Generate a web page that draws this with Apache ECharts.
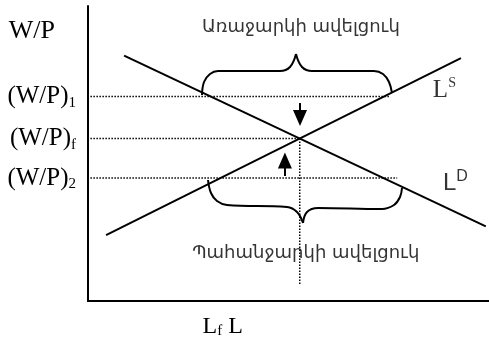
<!DOCTYPE html>
<html>
<head>
<meta charset="utf-8">
<script src="https://cdn.jsdelivr.net/npm/echarts@6/dist/echarts.min.js"></script>
<style>
html, body { margin: 0; padding: 0; background: #fff; }
#chart { width: 489px; height: 346px; }
</style>
</head>
<body>
<div id="chart"></div>
<script>
// labour market diagram, both axes in 0..100 units
var supplyLine = [[4.5, 22.3], [93, 82.3]];
var demandLine = [[9, 83.2], [99.2, 25.3]];
var eqL = 52.8;
var wLevels = [69.3, 55.1, 41.7];            // (W/P)1, (W/P)f, (W/P)2
var wLabels = ['(W/P){sub|1}', '(W/P){sub|f}', '(W/P){sub|2}'];
var wGuideEnd = [75.3, 52.8, 77.1];
var lGuideBottom = 5.4;
var lTickValues = [33.6];
var lTickLabels = ['L{sub|f} L'];

var topBraceL = [[28.43, 69.83], [28.93, 74.24], [30.42, 76.95], [32.42, 77.97], [47.88, 77.97], [50.37, 79.32], [51.87, 83.73]];
var topBraceR = [[51.87, 83.73], [53.37, 79.32], [55.86, 77.97], [71.32, 77.97], [73.57, 76.95], [75.06, 74.24], [75.81, 70.51]];
var bottomBraceL = [[29.93, 41.02], [30.67, 36.61], [32.17, 33.9], [34.66, 32.54], [49.63, 31.86], [52.12, 30.17], [53.62, 26.44]];
var bottomBraceR = [[53.62, 26.44], [54.61, 30.17], [57.36, 31.53], [73.32, 31.19], [76.31, 32.54], [77.81, 35.25], [78.3, 38.31]];

// arrows: [from, to]
var arrowDown = [[52.87, 67.1], [52.87, 62.0]];
var arrowUp = [[49.1, 42.4], [49.1, 47.6]];

var noteTexts = ['Առաջարկի ավելցուկ', 'Պահանջարկի ավելցուկ'];
var notePos = [[53.1, 92.8], [54.3, 16.2]];
var curveNames = ['L{sup|S}', 'L{sup|D}'];
var curveNamePos = [[86.0, 71.3], [88.5, 40.0]];

var serif = 'Liberation Serif';
var black = '#000';

var myChart = echarts.init(document.getElementById('chart'));

function solid(name, data, smooth) {
  return {
    name: name, type: 'line', data: data, symbol: 'none', smooth: smooth || false,
    lineStyle: { color: black, width: 2 }, silent: true, animation: false
  };
}
function dotted(name, data) {
  return {
    name: name, type: 'line', data: data, symbol: 'none',
    lineStyle: { color: black, width: 1.5, type: [1.5, 1.5] }, silent: true, animation: false
  };
}

var series = [
  solid('supply', supplyLine),
  solid('demand', demandLine),
  solid('braceTopL', topBraceL, 0.4),
  solid('braceTopR', topBraceR, 0.4),
  solid('braceBotL', bottomBraceL, 0.4),
  solid('braceBotR', bottomBraceR, 0.4)
];
wLevels.forEach(function (w, i) {
  series.push(dotted('w' + i, [[0.6, w], [wGuideEnd[i], w]]));
});
var vGuide = dotted('lf', [[eqL, wLevels[1]], [eqL, lGuideBottom]]);
vGuide.markLine = {
  silent: true, animation: false,
  symbol: ['none', 'triangle'], symbolSize: [14, 16],
  label: { show: false },
  lineStyle: { color: black, width: 2, type: 'solid' },
  itemStyle: { color: black },
  data: [
    [{ coord: arrowDown[0] }, { coord: arrowDown[1] }],
    [{ coord: arrowUp[0] }, { coord: arrowUp[1] }]
  ]
};
series.push(vGuide);

series.push({
  name: 'notes', type: 'scatter', symbolSize: 0, silent: true, animation: false,
  data: noteTexts.map(function (t, i) {
    return { value: notePos[i], name: t };
  }),
  label: {
    show: true, position: 'inside', formatter: '{b}',
    fontFamily: 'DejaVu Sans', fontSize: 18, color: black
  }
});
series.push({
  name: 'curveNames', type: 'scatter', symbolSize: 0, silent: true, animation: false,
  data: curveNames.map(function (t, i) {
    var fam = i === 0 ? serif : 'Liberation Sans';
    return {
      value: curveNamePos[i], name: t,
      label: {
        fontFamily: fam, fontSize: i === 0 ? 25 : 24, lineHeight: 28, color: black,
        rich: { sup: { fontFamily: fam, fontSize: i === 0 ? 14 : 16, verticalAlign: 'top', color: black } }
      }
    };
  }),
  label: { show: true, position: 'right', distance: 0, formatter: '{b}', color: black }
});

var option = {
  animation: false,
  grid: { left: 88, right: 0, top: 6, bottom: 45 },
  xAxis: {
    type: 'value', min: 0, max: 100,
    axisLine: { show: true, onZero: false, lineStyle: { color: black, width: 2 } },
    axisTick: { show: false },
    splitLine: { show: false },
    axisLabel: {
      customValues: lTickValues,
      margin: 14,
      fontFamily: serif, fontSize: 24, color: black,
      formatter: function (v) { return lTickLabels[lTickValues.indexOf(v)]; },
      rich: { sub: { fontFamily: serif, fontSize: 15, verticalAlign: 'bottom', color: black } }
    }
  },
  yAxis: {
    type: 'value', min: 0, max: 100,
    name: 'W/P', nameLocation: 'end', nameGap: -25,
    nameTextStyle: { fontFamily: serif, fontSize: 26, color: black, align: 'right', verticalAlign: 'middle', padding: [0, 33, 0, 0] },
    axisLine: { show: true, onZero: false, lineStyle: { color: black, width: 2 } },
    axisTick: { show: false },
    splitLine: { show: false },
    axisLabel: {
      customValues: wLevels,
      margin: 12,
      fontFamily: serif, fontSize: 25, color: black, lineHeight: 28,
      formatter: function (v) { return wLabels[wLevels.indexOf(v)]; },
      rich: { sub: { fontFamily: serif, fontSize: 15, verticalAlign: 'bottom', color: black } }
    }
  },
  series: series
};
myChart.setOption(option);
window.addEventListener('resize', function () { myChart.resize(); });
</script>
</body>
</html>
